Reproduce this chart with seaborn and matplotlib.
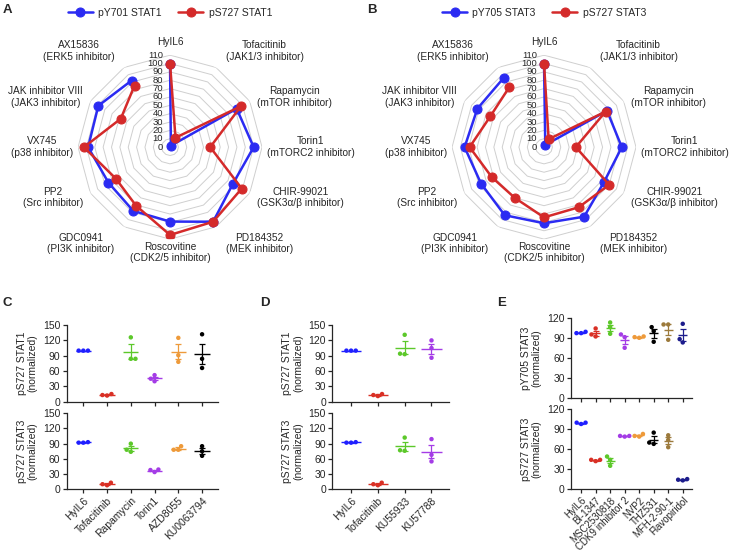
import numpy as np
import pandas as pd
import matplotlib
matplotlib.use('Agg')
import matplotlib.pyplot as plt
import seaborn as sns

sns.set_style('ticks')
plt.rcParams['font.family'] = ['Liberation Sans', 'DejaVu Sans']
plt.rcParams['axes.linewidth'] = 0.9

# ---- radar data (A, B) ----
radar_labels = ['HyIL6', 'Tofacitinib\n(JAK1/3 inhibitor)', 'Rapamycin\n(mTOR inhibitor)',
                'Torin1\n(mTORC2 inhibitor)', 'CHIR-99021\n(GSK3α/β inhibitor)',
                'PD184352\n(MEK inhibitor)', 'Roscovitine\n(CDK2/5 inhibitor)',
                'GDC0941\n(PI3K inhibitor)', 'PP2\n(Src inhibitor)', 'VX745\n(p38 inhibitor)',
                'JAK inhibitor VIII\n(JAK3 inhibitor)', 'AX15836\n(ERK5 inhibitor)']
a_py701_stat1 = [100, 2, 92, 100, 87, 103, 89, 88, 85, 98, 99, 92]
a_ps727_stat1 = [100, 13, 98, 48, 99, 103, 105, 81, 75, 103, 68, 85]
b_py705_stat3 = [100, 3, 87, 93, 83, 96, 91, 94, 87, 95, 92, 96]
b_ps727_stat3 = [100, 11, 85, 38, 90, 83, 84, 70, 72, 89, 74, 83]
radar_ticks = list(range(0, 111, 10))

# ---- dot plot data (C, D, E) ----
c_cats = ['HyIL6', 'Tofacitinib', 'Rapamycin', 'Torin1', 'AZD8055', 'KU0063794']
c_stat1 = [[100, 100, 100], [15, 12, 13], [126, 84, 84], [52, 45, 40], [125, 91, 78], [132, 84, 66]]
c_stat3 = [[93, 92, 92], [13, 8, 10], [90, 74, 78], [39, 34, 38], [85, 78, 78], [85, 66, 75]]

d_cats = ['HyIL6', 'Tofacitinib', 'KU55933', 'KU57788']
d_stat1 = [[100, 100, 100], [15, 11, 13], [131, 93, 94], [120, 105, 86]]
d_stat3 = [[93, 92, 92], [13, 8, 10], [102, 76, 77], [99, 68, 55]]

e_cats = ['HyIL6', 'BI-1347', 'MSC2530818', 'CDK9 inhibitor 2', 'NVP2', 'THZ531',
          'MFH-2-90-1', 'Flavopiridol']
e_py705 = [[100, 98, 98], [105, 96, 93], [114, 107, 97], [96, 92, 76], [93, 92, 91],
           [107, 101, 85], [111, 111, 88], [112, 89, 84]]
e_ps727 = [[100, 98, 100], [44, 42, 44], [49, 44, 35], [80, 79, 80], [83, 80, 79],
           [85, 70, 68], [81, 74, 63], [15, 14, 13]]

BLUE, RED = '#2b2bf2', '#d42a2a'
pal = ['#1f1fff', '#d93025', '#5cc82a', '#a43ce6', '#ee9a3a', '#000000', '#9c7a3c', '#1c1c8c']

fig = plt.figure(figsize=(7.32, 5.51), dpi=100)


def radar(rect, blue_vals, red_vals, blue_name, red_name):
    ax = fig.add_axes(rect, projection='polar')
    ax.set_theta_zero_location('N')
    ax.set_theta_direction(-1)
    n = len(radar_labels)
    theta = np.arange(n) * 2 * np.pi / n
    th_closed = np.append(theta, theta[0])
    # polygon grid
    for lev in radar_ticks[1:]:
        ax.plot(th_closed, [lev] * (n + 1), color='#cfcfcf', lw=0.7, zorder=1)
    sns.lineplot(x=th_closed, y=np.append(blue_vals, blue_vals[0]), sort=False, color=BLUE,
                 marker='o', markersize=6.5, markeredgecolor=BLUE, lw=1.8, ax=ax,
                 label=blue_name, zorder=3)
    sns.lineplot(x=th_closed, y=np.append(red_vals, red_vals[0]), sort=False, color=RED,
                 marker='o', markersize=6.5, markeredgecolor=RED, lw=1.8, ax=ax,
                 label=red_name, zorder=4)
    ax.set_ylim(0, 110)
    ax.set_xticks([])
    ax.set_yticks([])
    ax.grid(False)
    ax.spines['polar'].set_visible(False)
    ax.set_xlabel('')
    ax.set_ylabel('')
    for lev in radar_ticks:
        ax.annotate(str(lev), (0, lev), xytext=(-5, 0), textcoords='offset points',
                    ha='right', va='center', fontsize=6.8, zorder=5)
    for k, (t, lab) in enumerate(zip(theta, radar_labels)):
        s = np.sin(t)
        if abs(s) < 0.1:
            ax.text(t, 126, lab, ha='center', va='center', fontsize=7.3, multialignment='center',
                    clip_on=False)
        else:
            if abs(np.cos(t)) > 0.8:
                r = 133
            elif abs(np.cos(t)) < 0.1:
                r = 116
            else:
                r = 120
            ax.text(t, r, lab, ha='left' if s > 0 else 'right', va='center', fontsize=7.3,
                    multialignment='center', clip_on=False)
    ax.legend(loc='center', bbox_to_anchor=(0.5, 1.23), ncol=2, frameon=False, fontsize=7.5,
              handlelength=2.4, columnspacing=1.6, handletextpad=0.5)
    return ax


radar([0.1066, 0.566, 0.2514, 0.3339], a_py701_stat1, a_ps727_stat1, 'pY701 STAT1', 'pS727 STAT1')
radar([0.6175, 0.566, 0.2514, 0.3339], b_py705_stat3, b_ps727_stat3, 'pY705 STAT3', 'pS727 STAT3')


def dots(rect, cats, vals, ylim, yticks, ylabel, show_x, half=0.32, xfs=7.5):
    ax = fig.add_axes(rect)
    df = pd.DataFrame({'cat': np.repeat(cats, 3), 'val': np.concatenate(vals)})
    cols = pal[:len(cats)]
    sns.swarmplot(data=df, x='cat', y='val', hue='cat', order=cats, hue_order=cats,
                  palette=cols, size=3.2, ax=ax, legend=False, zorder=3)
    for i, (v, c) in enumerate(zip(vals, cols)):
        m = np.mean(v)
        se = np.std(v, ddof=1) / np.sqrt(len(v))
        ax.hlines(m, i - half, i + half, color=c, lw=1.0, zorder=4)
        ax.errorbar(i, m, yerr=se, color=c, capsize=2.5, lw=0.9, capthick=0.9, zorder=4)
    ax.set_ylim(*ylim)
    ax.set_yticks(yticks)
    ax.set_xlim(-0.7, len(cats) - 0.33)
    ax.set_xlabel('')
    ax.set_ylabel(ylabel, fontsize=7.5, linespacing=1.1)
    ax.tick_params(axis='y', labelsize=7.5, length=3, width=0.9, pad=1.5)
    ax.tick_params(axis='x', labelsize=xfs, length=3, width=0.9, pad=1.5)
    ax.set_xticks(range(len(cats)))
    if show_x:
        ax.set_xticklabels(cats, rotation=45, ha='right', rotation_mode='anchor')
    else:
        ax.set_xticklabels([])
    sns.despine(ax=ax)
    return ax


dots([0.0911, 0.271, 0.2067, 0.139], c_cats, c_stat1, (0, 150), range(0, 151, 30),
     'pS727 STAT1\n(normalized)', False)
dots([0.0911, 0.112, 0.2067, 0.138], c_cats, c_stat3, (0, 150), range(0, 151, 30),
     'pS727 STAT3\n(normalized)', True)
dots([0.454, 0.271, 0.160, 0.139], d_cats, d_stat1, (0, 150), range(0, 151, 30),
     'pS727 STAT1\n(normalized)', False, half=0.38)
dots([0.454, 0.112, 0.160, 0.138], d_cats, d_stat3, (0, 150), range(0, 151, 30),
     'pS727 STAT3\n(normalized)', True, half=0.38)
dots([0.780, 0.277, 0.166, 0.145], e_cats, e_py705, (0, 120), range(0, 121, 30),
     'pY705 STAT3\n(normalized)', False, half=0.3)
dots([0.780, 0.1125, 0.166, 0.1445], e_cats, e_ps727, (0, 120), range(0, 121, 30),
     'pS727 STAT3\n(normalized)', True, half=0.3, xfs=7)

for letter, x, y in [('A', 0.004, 0.982), ('B', 0.502, 0.982), ('C', 0.004, 0.45),
                     ('D', 0.355, 0.45), ('E', 0.679, 0.45)]:
    fig.text(x, y, letter, fontsize=9.5, fontweight='bold', ha='left', va='center')

fig.savefig('out.png', dpi=100)
